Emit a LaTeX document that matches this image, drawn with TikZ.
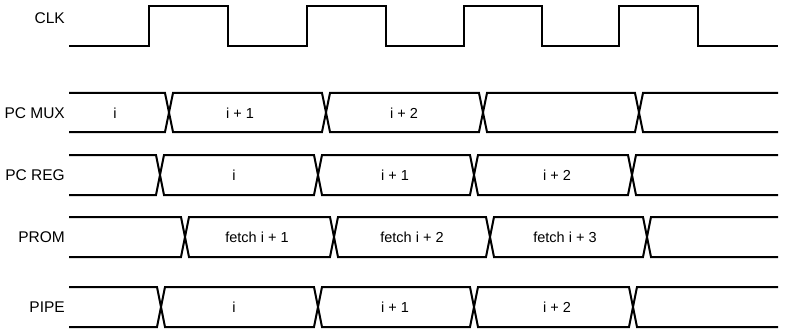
\documentclass[tikz,border=0pt]{standalone}
\usepackage{fontspec}
\setmainfont{Liberation Sans}
\tikzset{
  sig/.style={line width=2pt, line join=miter, line cap=butt},
  sname/.style={anchor=east, inner sep=0pt, font=\fontsize{15.5}{17}\selectfont},
  dval/.style={inner sep=0pt, font=\fontsize{14.5}{16}\selectfont},
}
% #1 top y, #2 bottom y, #3..#6 crossing centres
\newcommand{\mybus}[6]{%
  \draw[sig] (69,#1) -- (#3-4,#1) -- (#3+4,#2) -- (#4-4,#2) -- (#4+4,#1) -- (#5-4,#1) -- (#5+4,#2) -- (#6-4,#2) -- (#6+4,#1) -- (778,#1);
  \draw[sig] (69,#2) -- (#3-4,#2) -- (#3+4,#1) -- (#4-4,#1) -- (#4+4,#2) -- (#5-4,#2) -- (#5+4,#1) -- (#6-4,#1) -- (#6+4,#2) -- (778,#2);
}
\begin{document}
\begin{tikzpicture}[x=1pt,y=-1pt]
\useasboundingbox (0,0) rectangle (793,329);
% CLK
\node[sname] (lclk) at (65,18) {CLK};
\draw[sig] (69,46) -- (149,46) -- (149,6) -- (228,6) -- (228,46) -- (307,46) -- (307,6) -- (386,6) -- (386,46) -- (464,46) -- (464,6) -- (542,6) -- (542,46) -- (619,46) -- (619,6) -- (698,6) -- (698,46) -- (778,46);
% PC MUX
\node[sname] (lmux) at (65,113) {PC MUX};
\mybus{93}{132}{169}{326}{483}{639}
\node[dval] (mux0) at (115,113) {i};
\node[dval] (mux1) at (240,113) {i + 1};
\node[dval] (mux2) at (404,113) {i + 2};
% PC REG
\node[sname] (lreg) at (65,175) {PC REG};
\mybus{155}{195}{160}{318}{474}{632}
\node[dval] (reg0) at (234,175) {i};
\node[dval] (reg1) at (395,175) {i + 1};
\node[dval] (reg2) at (557,175) {i + 2};
% PROM
\node[sname] (lprom) at (65,237) {PROM};
\mybus{217}{257}{185}{334}{490}{647}
\node[dval] (prom1) at (257,237) {fetch i + 1};
\node[dval] (prom2) at (412,237) {fetch i + 2};
\node[dval] (prom3) at (565,237) {fetch i + 3};
% PIPE
\node[sname] (lpipe) at (65,307) {PIPE};
\mybus{287}{327}{161}{318}{474}{633}
\node[dval] (pipe0) at (234,307) {i};
\node[dval] (pipe1) at (395,307) {i + 1};
\node[dval] (pipe2) at (557,307) {i + 2};
\end{tikzpicture}
\end{document}
